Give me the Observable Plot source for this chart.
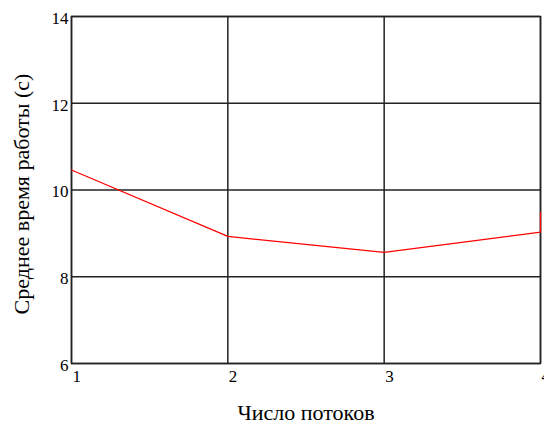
<!DOCTYPE html>
<html>
<head>
<meta charset="utf-8">
<script src="https://cdn.jsdelivr.net/npm/d3@7"></script>
<script src="https://cdn.jsdelivr.net/npm/@observablehq/plot@0.6"></script>
<style>
  html, body { margin: 0; padding: 0; background: #fff; }
  svg { display: block; }
  svg text { font-family: 'Liberation Serif', serif; }
</style>
</head>
<body>
<div id="chart"></div>
<script>
const threads = [1, 2, 3, 4, 4];
const avgTime = [10.46, 8.93, 8.56, 9.03, 9.49];
const xTicks = [1, 2, 3, 4];
const yTicks = [6, 8, 10, 12, 14];
const xTitle = "Число потоков";
const yTitle = "Среднее время работы (с)";

const data = threads.map((t, i) => ({ t, v: avgTime[i] }));

const chart = Plot.plot({
  width: 544,
  height: 428,
  marginLeft: 71,
  marginRight: 4,
  marginTop: 16,
  marginBottom: 65,
  style: { fontFamily: "'Liberation Serif', serif", background: "#fff", color: "#000", overflow: "visible" },
  x: { domain: [1, 4] },
  y: { domain: [6, 14] },
  marks: [
    Plot.ruleX(xTicks, { stroke: "#222", strokeWidth: 1.5 }),
    Plot.ruleY(yTicks, { stroke: "#222", strokeWidth: 1.5 }),
    Plot.frame({ stroke: "#222", strokeWidth: 1.5 }),
    Plot.line(data, { x: "t", y: "v", stroke: "#ff0000", strokeWidth: 1.2 }),
    Plot.axisY(yTicks, { tickSize: 0, tickPadding: 3, dy: 2, fontSize: 17, fontFamily: "Liberation Serif", tickFormat: "d", label: null }),
    Plot.axisX(xTicks, { tickSize: 0, tickPadding: 6, textAnchor: "start", dx: 1, fontSize: 17, fontFamily: "Liberation Serif", tickFormat: "d", label: null }),
    Plot.text([xTitle], { frameAnchor: "bottom", dy: 56, fontSize: 22, fontFamily: "Liberation Serif", textAnchor: "middle", text: d => d }),
    Plot.text([yTitle], { frameAnchor: "left", textAnchor: "middle", dx: -50, dy: 4, rotate: -90, fontSize: 22, fontFamily: "Liberation Serif", text: d => d })
  ]
});
document.getElementById("chart").appendChild(chart);
</script>
</body>
</html>
